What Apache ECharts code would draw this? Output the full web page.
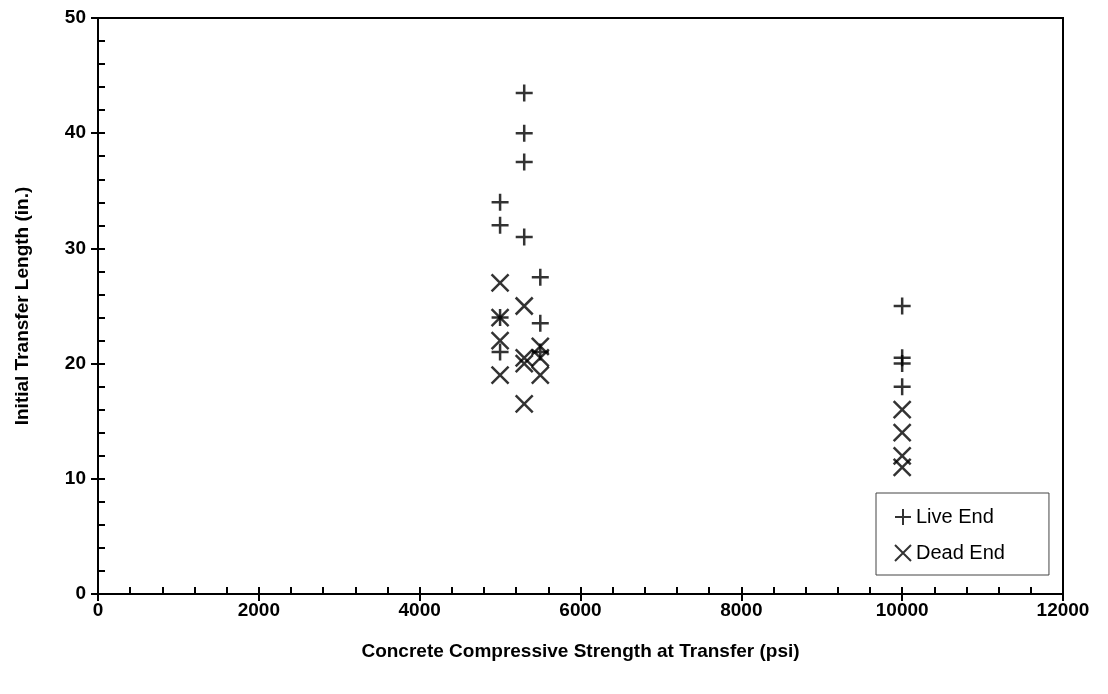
<!DOCTYPE html>
<html>
<head>
<meta charset="utf-8">
<script src="https://cdn.jsdelivr.net/npm/echarts@6/dist/echarts.min.js"></script>
<style>
html, body { margin: 0; padding: 0; background: #fff; }
#chart { width: 1108px; height: 694px; }
</style>
</head>
<body>
<div id="chart"></div>
<script>
// 数据 (strength psi, transfer length in.)
var liveX = [5000, 5000, 5000, 5000, 5300, 5300, 5300, 5300, 5500, 5500, 5500, 10000, 10000, 10000, 10000];
var liveY = [34, 32, 24, 21, 43.5, 40, 37.5, 31, 27.5, 23.5, 21, 25, 20.5, 20, 18];
var deadX = [5000, 5000, 5000, 5000, 5300, 5300, 5300, 5300, 5500, 5500, 5500, 10000, 10000, 10000, 10000];
var deadY = [27, 24, 22, 19, 25, 20.5, 20, 16.5, 21.5, 20.5, 19, 16, 14, 12, 11];

var plusPath = 'path://M0,5L10,5M5,0L5,10';
var crossPath = 'path://M0,0L10,10M10,0L0,10';
var font = 'Liberation Sans';

function pairs(xs, ys) {
    var out = [];
    for (var i = 0; i < xs.length; i++) out.push([xs[i], ys[i]]);
    return out;
}

var chart = echarts.init(document.getElementById('chart'));
var option = {
    animation: false,
    backgroundColor: '#fff',
    grid: {
        left: 98, right: 45, top: 18, bottom: 100,
        show: true, borderColor: '#000', borderWidth: 2
    },
    legend: {
        orient: 'vertical',
        left: 876, top: 493,
        padding: [14, 44, 12, 18],
        itemGap: 16,
        itemWidth: 16, itemHeight: 16,
        backgroundColor: '#fff',
        borderColor: '#444', borderWidth: 1,
        textStyle: { fontFamily: font, fontSize: 20, color: '#000' },
        data: [
            { name: 'Live End', icon: plusPath },
            { name: 'Dead End', icon: crossPath }
        ]
    },
    xAxis: [{
        type: 'value', min: 0, max: 12000, interval: 2000,
        name: 'Concrete Compressive Strength at Transfer (psi)',
        nameLocation: 'middle', nameGap: 48,
        nameTextStyle: { fontFamily: font, fontSize: 19, fontWeight: 'bold', color: '#000' },
        axisLine: { lineStyle: { color: '#000', width: 2 } },
        axisTick: { length: 7, lineStyle: { color: '#000', width: 2 } },
        axisLabel: { fontFamily: font, fontSize: 19, fontWeight: 'bold', color: '#000', margin: 7,
            formatter: function (v) { return String(v); } },
        splitLine: { show: false }
    }, {
        type: 'value', min: 0, max: 12000, interval: 2000, position: 'bottom',
        axisLine: { show: false },
        axisTick: { inside: true, length: 7, lineStyle: { color: '#000', width: 2 } },
        minorTick: { show: true, splitNumber: 5, length: 7, lineStyle: { color: '#000', width: 2 } },
        axisLabel: { show: false },
        splitLine: { show: false }
    }],
    yAxis: [{
        type: 'value', min: 0, max: 50, interval: 10,
        name: 'Initial Transfer Length (in.)',
        nameLocation: 'middle', nameGap: 66,
        nameTextStyle: { fontFamily: font, fontSize: 19, fontWeight: 'bold', color: '#000' },
        axisLine: { lineStyle: { color: '#000', width: 2 } },
        axisTick: { length: 7, lineStyle: { color: '#000', width: 2 } },
        axisLabel: { fontFamily: font, fontSize: 19, fontWeight: 'bold', color: '#000', margin: 12 },
        splitLine: { show: false }
    }, {
        type: 'value', min: 0, max: 50, interval: 10, position: 'left',
        axisLine: { show: false },
        axisTick: { inside: true, length: 7, lineStyle: { color: '#000', width: 2 } },
        minorTick: { show: true, splitNumber: 5, length: 7, lineStyle: { color: '#000', width: 2 } },
        axisLabel: { show: false },
        splitLine: { show: false }
    }],
    series: [{
        name: 'Live End',
        type: 'scatter',
        symbol: plusPath,
        symbolSize: 17,
        itemStyle: { color: 'transparent', borderColor: '#000', borderWidth: 2.5 },
        data: pairs(liveX, liveY)
    }, {
        name: 'Dead End',
        type: 'scatter',
        symbol: crossPath,
        symbolSize: 17,
        itemStyle: { color: 'transparent', borderColor: '#000', borderWidth: 2.5 },
        data: pairs(deadX, deadY)
    }]
};
chart.setOption(option);
</script>
</body>
</html>
